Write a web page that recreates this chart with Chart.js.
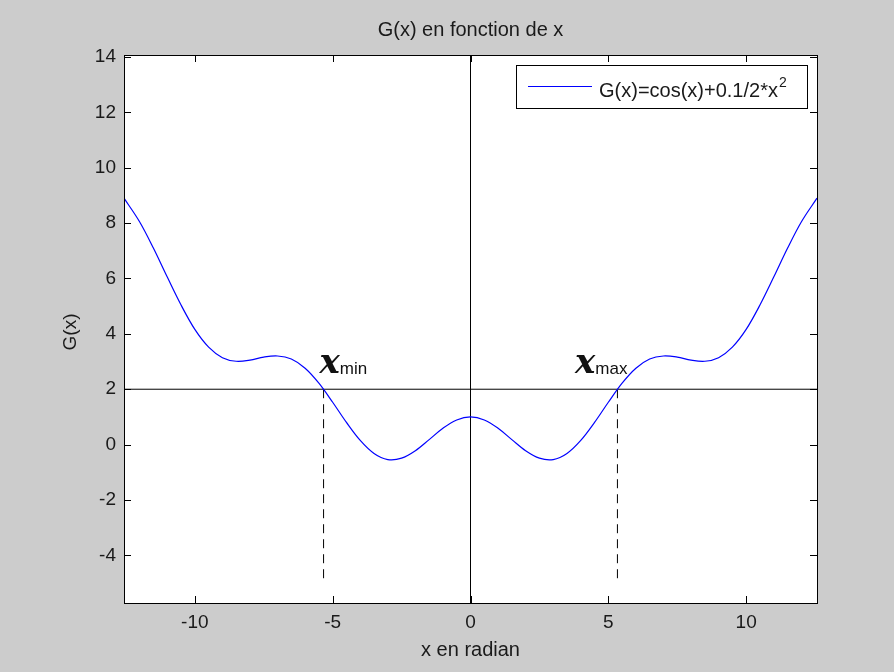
<!DOCTYPE html>
<html>
<head>
<meta charset="utf-8">
<title>G(x) en fonction de x</title>
<script src="https://cdn.jsdelivr.net/npm/chart.js@4/dist/chart.umd.min.js"></script>
<style>
  html, body { margin: 0; padding: 0; background: #cccccc; }
  #wrap { width: 894px; height: 672px; }
</style>
</head>
<body>
<div id="wrap"><canvas id="graphe" width="894" height="672"></canvas></div>
<script>
// valeurs
const titre = 'G(x) en fonction de x';
const labelX = 'x en radian';
const labelY = 'G(x)';
const legende = 'G(x)=cos(x)+0.1/2*x^2';

const xLimites = [-12.57, 12.57];
const yLimites = [-5.72, 14.07];

const courbeX = [
  -12.57, -12, -11.5, -11, -10.5, -10, -9.5, -9, -8.5, -8, -7.5, -7, -6.5,
  -6, -5.5, -5, -4.5, -4, -3.5, -3, -2.5, -2, -1.5, -1, -0.5,
  0,
  0.5, 1, 1.5, 2, 2.5, 3, 3.5, 4, 4.5, 5, 5.5, 6,
  6.5, 7, 7.5, 8, 8.5, 9, 9.5, 10, 10.5, 11, 11.5, 12, 12.57
];
const courbeY = [
  8.90, 8.04, 7.09, 6.05, 5.04, 4.16, 3.52, 3.14, 3.01, 3.05, 3.16, 3.20, 3.09,
  2.76, 2.22, 1.53, 0.80, 0.15, -0.32, -0.54, -0.49, -0.22, 0.18, 0.59, 0.89,
  1.00,
  0.89, 0.59, 0.18, -0.22, -0.49, -0.54, -0.32, 0.15, 0.80, 1.53, 2.22, 2.76,
  3.09, 3.20, 3.16, 3.05, 3.01, 3.14, 3.52, 4.16, 5.04, 6.05, 7.09, 8.04, 8.90
];

const niveau = 2;          // droite horizontale G = 2
const bornesNoms = ['min', 'max'];
const bornesX = [-5.33, 5.33];
const bornesBas = -4.9;    // fin des pointillés

const pasX = 5;
const pasY = 2;

// ---- construction des jeux de données ----
const ptsCourbe = courbeX.map((x, i) => ({ x, y: courbeY[i] }));
const ptsHoriz = [{ x: xLimites[0], y: niveau }, { x: xLimites[1], y: niveau }];
const ptsVert = [{ x: 0, y: yLimites[0] }, { x: 0, y: yLimites[1] }];

const datasets = [
  {
    label: legende,
    data: ptsCourbe,
    borderColor: '#0000ff',
    borderWidth: 1.2,
    pointRadius: 0,
    tension: 0.35,
  },
  { label: 'h', data: ptsHoriz, borderColor: '#000', borderWidth: 1, pointRadius: 0 },
  { label: 'v', data: ptsVert, borderColor: '#000', borderWidth: 1, pointRadius: 0 },
];
bornesX.forEach((bx, i) => {
  datasets.push({
    label: 'x' + bornesNoms[i],
    data: [{ x: bx, y: niveau }, { x: bx, y: bornesBas }],
    borderColor: '#000',
    borderWidth: 1,
    borderDash: [9, 6],
    pointRadius: 0,
  });
});

const POLICE = '"Liberation Sans", Arial, sans-serif';
const POLICE_X = 'bold italic 34px "DejaVu Serif", "Liberation Serif", serif';

// cadre, graduations internes, textes, légende (style matlab)
const cadreMatlab = {
  id: 'cadreMatlab',
  beforeDraw(chart) {
    const { ctx, chartArea: a } = chart;
    ctx.save();
    ctx.fillStyle = '#cccccc';
    ctx.fillRect(0, 0, chart.width, chart.height);
    ctx.fillStyle = '#ffffff';
    ctx.fillRect(a.left, a.top, a.right - a.left, a.bottom - a.top);
    ctx.restore();
  },
  afterDraw(chart) {
    const { ctx, chartArea: a } = chart;
    const xs = chart.scales.x;
    const ys = chart.scales.y;
    const cx = (a.left + a.right) / 2;
    const cy = (a.top + a.bottom) / 2;
    ctx.save();

    // graduations vers l'intérieur
    ctx.strokeStyle = '#000';
    ctx.lineWidth = 1;
    ctx.beginPath();
    xs.ticks.forEach((t) => {
      const p = Math.round(xs.getPixelForValue(t.value)) + 0.5;
      ctx.moveTo(p, a.bottom); ctx.lineTo(p, a.bottom - 7);
      ctx.moveTo(p, a.top); ctx.lineTo(p, a.top + 7);
    });
    ys.ticks.forEach((t) => {
      const p = Math.round(ys.getPixelForValue(t.value)) + 0.5;
      ctx.moveTo(a.left, p); ctx.lineTo(a.left + 7, p);
      ctx.moveTo(a.right, p); ctx.lineTo(a.right - 7, p);
    });
    ctx.stroke();

    // cadre
    ctx.strokeRect(Math.round(a.left) + 0.5, Math.round(a.top) + 0.5,
      Math.round(a.right - a.left), Math.round(a.bottom - a.top));

    // titres
    ctx.fillStyle = '#1a1a1a';
    ctx.font = '20px ' + POLICE;
    ctx.textAlign = 'center';
    ctx.textBaseline = 'middle';
    ctx.fillText(titre, cx, 30);
    ctx.fillText(labelX, cx, 650);
    ctx.save();
    ctx.translate(71, cy + 3);
    ctx.rotate(-Math.PI / 2);
    ctx.font = '19px ' + POLICE;
    ctx.fillText(labelY, 0, 0);
    ctx.restore();

    // étiquettes x_min / x_max
    const yb = ys.getPixelForValue(niveau) - 16;
    bornesX.forEach((bx, i) => {
      const px = xs.getPixelForValue(bx);
      ctx.font = POLICE_X;
      const wx = ctx.measureText('x').width;
      ctx.font = '17px ' + POLICE;
      const ws = ctx.measureText(bornesNoms[i]).width;
      const x0 = i === 0 ? px - 4 : px + 10 - wx - ws;
      ctx.textAlign = 'left';
      ctx.textBaseline = 'alphabetic';
      ctx.fillStyle = '#111';
      ctx.font = POLICE_X;
      ctx.fillText('x', x0, yb);
      ctx.font = '17px ' + POLICE;
      ctx.fillText(bornesNoms[i], x0 + wx, yb + 1);
    });

    // légende
    const lx = 516.5, ly = 65.5, lw = 291, lh = 43;
    ctx.fillStyle = '#fff';
    ctx.fillRect(lx, ly, lw, lh);
    ctx.strokeStyle = '#000';
    ctx.strokeRect(lx, ly, lw, lh);
    ctx.strokeStyle = datasets[0].borderColor;
    ctx.lineWidth = 1.2;
    ctx.beginPath();
    ctx.moveTo(528, 86.5); ctx.lineTo(592, 86.5);
    ctx.stroke();
    const [base, expo] = chart.data.datasets[0].label.split('^');
    ctx.fillStyle = '#1a1a1a';
    ctx.textAlign = 'left';
    ctx.textBaseline = 'alphabetic';
    ctx.font = '20px ' + POLICE;
    ctx.fillText(base, 599, 97);
    const wb = ctx.measureText(base).width;
    ctx.font = '14px ' + POLICE;
    ctx.fillText(expo || '', 599 + wb + 1, 87);

    ctx.restore();
  },
};

new Chart(document.getElementById('graphe'), {
  type: 'line',
  data: { datasets },
  options: {
    responsive: false,
    animation: false,
    layout: { padding: { top: 55, right: 77, left: 0, bottom: 0 } },
    plugins: {
      legend: { display: false },
      tooltip: { enabled: false },
      title: { display: false },
    },
    scales: {
      x: {
        type: 'linear',
        min: xLimites[0],
        max: xLimites[1],
        grid: { display: false, drawTicks: false },
        border: { display: false },
        ticks: {
          stepSize: pasX,
          includeBounds: false,
          maxRotation: 0,
          padding: 8,
          color: '#1a1a1a',
          font: { family: POLICE, size: 19 },
        },
        afterFit(scale) { scale.height = 69; },
      },
      y: {
        type: 'linear',
        min: yLimites[0],
        max: yLimites[1],
        grid: { display: false, drawTicks: false },
        border: { display: false },
        ticks: {
          stepSize: pasY,
          includeBounds: false,
          padding: 8,
          color: '#1a1a1a',
          font: { family: POLICE, size: 19 },
        },
        afterFit(scale) { scale.width = 124; },
      },
    },
  },
  plugins: [cadreMatlab],
});
</script>
</body>
</html>
